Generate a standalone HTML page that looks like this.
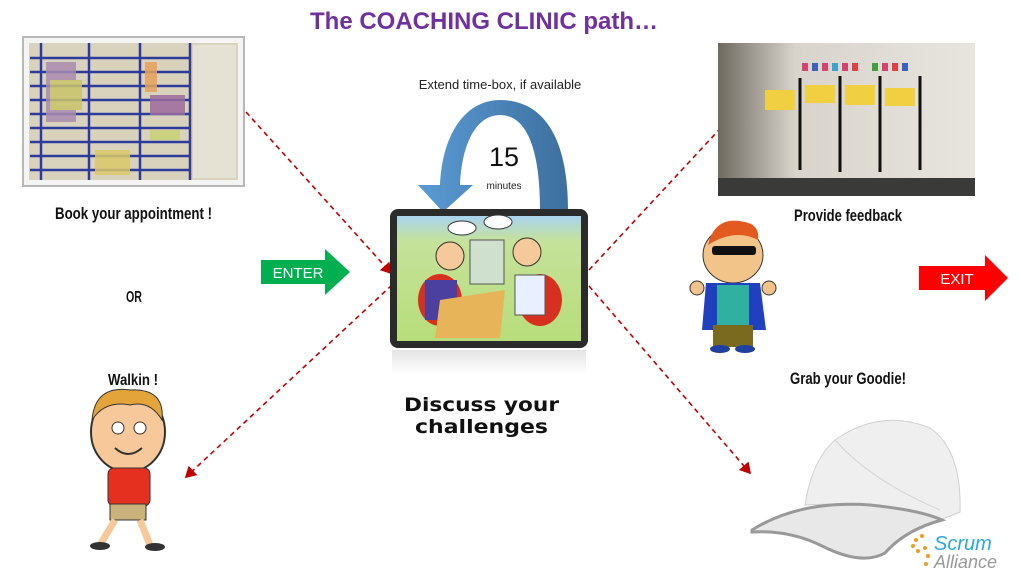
<!DOCTYPE html>
<html><head><meta charset="utf-8"><style>
html,body{margin:0;padding:0;background:#fff;width:1024px;height:576px;overflow:hidden}
svg{display:block}
</style></head><body>
<svg width="1024" height="576" viewBox="0 0 1024 576" xmlns="http://www.w3.org/2000/svg">
<defs>
<marker id="ah" markerWidth="8" markerHeight="8" refX="6" refY="4" orient="auto"><path d="M0,0 L7,4 L0,8 z" fill="#c00000"/></marker>
<linearGradient id="arc" x1="0" x2="1"><stop offset="0" stop-color="#5b9bd5"/><stop offset="1" stop-color="#3d6f9e"/></linearGradient>
<linearGradient id="sky" x1="0" y1="0" x2="0" y2="1"><stop offset="0" stop-color="#a9d4f0"/><stop offset="0.2" stop-color="#c5e29a"/><stop offset="1" stop-color="#b7dd7a"/></linearGradient>
<linearGradient id="wall" x1="0" x2="1"><stop offset="0" stop-color="#6f6a60"/><stop offset="0.3" stop-color="#d8d4cc"/><stop offset="1" stop-color="#e8e5df"/></linearGradient>
<linearGradient id="refl" x1="0" y1="0" x2="0" y2="1"><stop offset="0" stop-color="#e4e4e4"/><stop offset="1" stop-color="#fff"/></linearGradient>
</defs>
<text x="484" y="29" text-anchor="middle" font-family="Liberation Sans,sans-serif" font-weight="bold" font-size="24" fill="#7030a0">The COACHING CLINIC path…</text>

<!-- board photo -->
<rect x="23" y="37" width="221" height="149" fill="#f4f4f4" stroke="#b8b8b8" stroke-width="2"/>
<rect x="29" y="43" width="209" height="137" fill="#d9d2bd"/>
<g stroke="#2c3a9a" stroke-width="2.5">
<line x1="41" y1="43" x2="41" y2="180"/><line x1="89" y1="43" x2="89" y2="180"/><line x1="140" y1="43" x2="140" y2="180"/><line x1="190" y1="43" x2="190" y2="180"/>
<line x1="30" y1="58" x2="190" y2="58"/><line x1="30" y1="72" x2="190" y2="72"/><line x1="30" y1="86" x2="190" y2="86"/><line x1="30" y1="100" x2="190" y2="100"/><line x1="30" y1="114" x2="190" y2="114"/><line x1="30" y1="128" x2="190" y2="128"/><line x1="30" y1="142" x2="190" y2="142"/><line x1="30" y1="156" x2="190" y2="156"/><line x1="30" y1="170" x2="190" y2="170"/>
</g>
<g opacity="0.85">
<rect x="46" y="62" width="30" height="60" fill="#a98cb0"/><rect x="50" y="80" width="32" height="30" fill="#c9c46a"/>
<rect x="145" y="62" width="12" height="30" fill="#e6a35a"/><rect x="150" y="95" width="35" height="20" fill="#9c6a9e"/>
<rect x="95" y="150" width="35" height="25" fill="#d9c96a"/><rect x="150" y="130" width="30" height="10" fill="#c8d276"/>
<rect x="193" y="45" width="43" height="133" fill="#e8e4d8"/>
</g>
<g font-family="Liberation Sans,sans-serif" font-weight="bold" fill="#111">
<text x="55" y="219" font-size="17" textLength="157" lengthAdjust="spacingAndGlyphs">Book your appointment !</text>
<text x="126" y="302" font-size="16" textLength="16" lengthAdjust="spacingAndGlyphs">OR</text>
<text x="108" y="385" font-size="16" textLength="50" lengthAdjust="spacingAndGlyphs">Walkin !</text>
<text x="794" y="221" font-size="17" textLength="108" lengthAdjust="spacingAndGlyphs">Provide feedback</text>
<text x="790" y="384" font-size="17" textLength="116" lengthAdjust="spacingAndGlyphs">Grab your Goodie!</text>
</g>

<!-- boy -->
<g>
<ellipse cx="128" cy="432" rx="37" ry="40" fill="#f7c99a" stroke="#333" stroke-width="2"/>
<path d="M92,420 Q95,385 130,390 Q165,388 162,420 Q150,400 130,405 Q105,400 92,420z" fill="#e3a43a" stroke="#333"/>
<circle cx="118" cy="428" r="6" fill="#fff" stroke="#333"/><circle cx="140" cy="428" r="6" fill="#fff" stroke="#333"/>
<path d="M115,448 Q128,460 142,448" fill="none" stroke="#333" stroke-width="2"/>
<rect x="108" y="468" width="42" height="38" rx="6" fill="#e53020" stroke="#333"/>
<rect x="110" y="504" width="36" height="16" fill="#c9b27c" stroke="#333"/>
<path d="M115,520 L100,545 M140,520 L150,545" stroke="#f7c99a" stroke-width="7"/>
<ellipse cx="100" cy="546" rx="10" ry="4" fill="#333"/><ellipse cx="155" cy="547" rx="10" ry="4" fill="#333"/>
</g>

<!-- ENTER -->
<path d="M261,260 L325,260 L325,249 L350,272 L325,295 L325,284 L261,284z" fill="#00b050"/>
<text x="298" y="278" text-anchor="middle" font-family="Liberation Sans,sans-serif" font-size="15" fill="#fff">ENTER</text>

<!-- dashed connectors -->
<g stroke="#c00000" stroke-width="1.6" stroke-dasharray="5,4" fill="none" marker-end="url(#ah)">
<line x1="246" y1="112" x2="391" y2="273"/>
<line x1="392" y1="285" x2="186" y2="477"/>
<line x1="589" y1="270" x2="730" y2="118"/>
<line x1="589" y1="286" x2="750" y2="473"/>
</g>

<!-- arc arrow -->
<path d="M568,210 C568,140 545,100 500,100 C465,100 442,135 440,185 L418,185 L443,212 L473,185 L460,185 C462,140 478,115 500,115 C525,115 540,145 540,210 Z" fill="url(#arc)"/>
<text x="500" y="89" text-anchor="middle" font-family="Liberation Sans,sans-serif" font-size="13" fill="#222">Extend time-box,  if available</text>
<text x="504" y="166" text-anchor="middle" font-family="Liberation Sans,sans-serif" font-size="27" fill="#111">15</text>
<text x="504" y="189" text-anchor="middle" font-family="Liberation Sans,sans-serif" font-size="10" fill="#222">minutes</text>

<!-- monitor -->
<rect x="392" y="350" width="194" height="24" fill="url(#refl)"/>
<rect x="390" y="209" width="198" height="139" rx="8" fill="#2b2b2b"/>
<rect x="397" y="216" width="184" height="125" fill="url(#sky)"/>
<ellipse cx="440" cy="300" rx="22" ry="26" fill="#d83020"/><ellipse cx="540" cy="300" rx="22" ry="26" fill="#d83020"/>
<rect x="425" y="280" width="32" height="40" fill="#4b3fa0"/><rect x="515" y="275" width="30" height="40" fill="#e8f0ff" stroke="#555"/>
<circle cx="450" cy="256" r="14" fill="#f5c99a" stroke="#333"/><circle cx="527" cy="252" r="14" fill="#f5c99a" stroke="#333"/>
<rect x="470" y="240" width="34" height="44" fill="#cfe0cf" stroke="#555"/>
<path d="M440,300 L505,290 L500,338 L435,338z" fill="#e7b45a"/>
<ellipse cx="462" cy="228" rx="14" ry="7" fill="#fff" stroke="#333"/><ellipse cx="498" cy="222" rx="14" ry="7" fill="#fff" stroke="#333"/>
<text x="404" y="411" font-family="DejaVu Sans,sans-serif" font-weight="bold" font-size="19" fill="#111" textLength="155" lengthAdjust="spacingAndGlyphs">Discuss your</text>
<text x="415" y="433" font-family="DejaVu Sans,sans-serif" font-weight="bold" font-size="19" fill="#111" textLength="133" lengthAdjust="spacingAndGlyphs">challenges</text>

<!-- right photo -->
<rect x="718" y="43" width="257" height="153" fill="url(#wall)"/>
<rect x="718" y="178" width="257" height="18" fill="#3a3a38"/>
<g fill="#d84070"><rect x="802" y="63" width="6" height="8"/><rect x="812" y="63" width="6" height="8" fill="#4060c0"/><rect x="822" y="63" width="6" height="8"/><rect x="832" y="63" width="6" height="8" fill="#40a0d0"/><rect x="842" y="63" width="6" height="8"/><rect x="852" y="63" width="6" height="8" fill="#e04040"/><rect x="872" y="63" width="6" height="8" fill="#40a040"/><rect x="882" y="63" width="6" height="8"/><rect x="892" y="63" width="6" height="8" fill="#e04040"/><rect x="902" y="63" width="6" height="8" fill="#4060c0"/></g>
<g stroke="#111" stroke-width="3"><line x1="800" y1="78" x2="800" y2="170"/><line x1="840" y1="76" x2="840" y2="172"/><line x1="880" y1="76" x2="880" y2="172"/><line x1="920" y1="76" x2="920" y2="170"/></g>
<g fill="#f0d040"><rect x="765" y="90" width="30" height="20"/><rect x="805" y="85" width="30" height="18"/><rect x="845" y="85" width="30" height="20"/><rect x="885" y="88" width="30" height="18"/></g>

<!-- guy -->
<ellipse cx="733" cy="255" rx="30" ry="28" fill="#f2c48a" stroke="#333"/>
<path d="M708,245 Q715,215 745,222 Q760,225 758,240 Q735,228 708,245z" fill="#e25a20"/>
<rect x="712" y="246" width="44" height="9" rx="3" fill="#111"/>
<path d="M706,283 L760,283 L766,330 L702,330z" fill="#2040c0"/>
<rect x="717" y="285" width="32" height="40" fill="#2fb0a0"/>
<rect x="713" y="325" width="40" height="22" fill="#7a6a20"/>
<circle cx="697" cy="288" r="7" fill="#f2c48a" stroke="#333"/><circle cx="769" cy="288" r="7" fill="#f2c48a" stroke="#333"/>
<ellipse cx="720" cy="349" rx="10" ry="4" fill="#2040a0"/><ellipse cx="745" cy="349" rx="10" ry="4" fill="#2040a0"/>

<!-- EXIT -->
<path d="M919,266 L985,266 L985,255 L1008,278 L985,301 L985,290 L919,290z" fill="#ff0000"/>
<text x="957" y="284" text-anchor="middle" font-family="Liberation Sans,sans-serif" font-size="15" fill="#fff">EXIT</text>

<!-- cap -->
<path d="M835,440 Q880,408 930,428 Q962,450 960,512 L935,522 Q880,500 805,505 Q812,460 835,440z" fill="#efefef" stroke="#d0d0d0"/>
<path d="M752,530 Q800,500 870,505 Q920,510 942,520 Q905,530 885,553 Q862,566 822,546 Q790,530 752,532z" fill="#e8e8e8" stroke="#999" stroke-width="3"/>
<path d="M835,440 Q870,480 940,510" fill="none" stroke="#d4d4d4"/>

<!-- logo -->
<g fill="#f39a20"><circle cx="916" cy="540" r="2"/><circle cx="913" cy="546" r="2"/><circle cx="918" cy="551" r="2"/><circle cx="925" cy="548" r="2"/><circle cx="922" cy="536" r="2"/><circle cx="928" cy="556" r="2"/><circle cx="926" cy="564" r="2"/></g>
<text x="934" y="550" font-family="Liberation Sans,sans-serif" font-style="italic" font-size="20" fill="#29a8e0">Scrum</text>
<text x="934" y="568" font-family="Liberation Sans,sans-serif" font-style="italic" font-size="18" fill="#999">Alliance</text>
</svg>
</body></html>
